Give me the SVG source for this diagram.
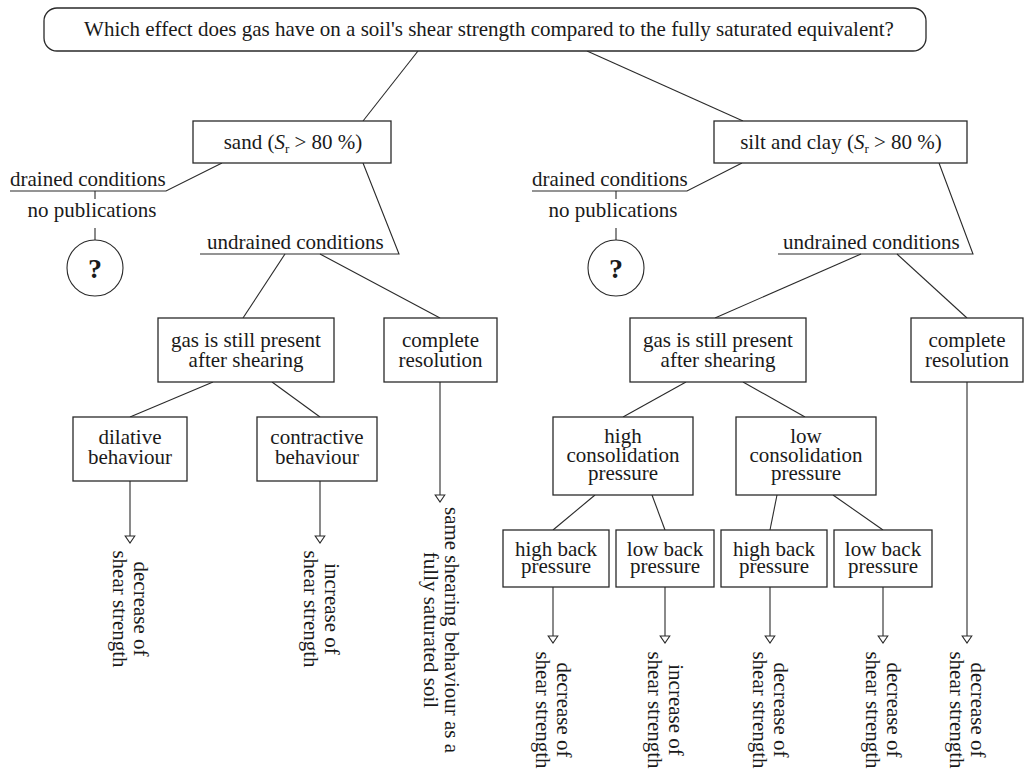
<svg xmlns="http://www.w3.org/2000/svg" width="1025" height="770" viewBox="0 0 1025 770">
<defs>
<style>
text{font-family:"Liberation Serif","Times New Roman",serif;font-size:21px;fill:#1a1a1a}
.c{text-anchor:middle}
.box{fill:#fff;stroke:#2a2a2a;stroke-width:1.3}
.ln{fill:none;stroke:#2a2a2a;stroke-width:1.1}
.ar{fill:none;stroke:#2a2a2a;stroke-width:1.1;marker-end:url(#tri)}
.q{font-weight:bold;font-size:28px}
.sub{font-size:13px}
</style>
<marker id="tri" markerUnits="userSpaceOnUse" markerWidth="12" markerHeight="12" viewBox="0 0 10 12" refX="8" refY="6" orient="auto">
<path d="M1,1.2 L8,6 L1,10.8 Z" fill="#fff" stroke="#2a2a2a" stroke-width="1.1"/>
</marker>
</defs>
<rect width="1025" height="770" fill="#fff"/>

<g id="connectors">
<line class="ln" x1="418" y1="51" x2="363" y2="121"/>
<line class="ln" x1="587" y1="51" x2="743" y2="121"/>
<polyline class="ln" points="222,163 166,191 10,191"/>
<line class="ln" x1="95" y1="191" x2="95" y2="199"/>
<line class="ln" x1="95" y1="228" x2="95" y2="240"/>
<polyline class="ln" points="363,163 399,254 200,254"/>
<polyline class="ln" points="742,163 687,191 532,191"/>
<line class="ln" x1="616" y1="191" x2="616" y2="199"/>
<line class="ln" x1="616" y1="228" x2="616" y2="240"/>
<polyline class="ln" points="939,163 973,254 778,254"/>
<line class="ln" x1="285" y1="254" x2="243" y2="318"/>
<line class="ln" x1="320" y1="254" x2="440" y2="318"/>
<line class="ln" x1="213" y1="382" x2="130" y2="417"/>
<line class="ln" x1="272" y1="382" x2="320" y2="417"/>
<line class="ar" x1="130" y1="481" x2="130" y2="543"/>
<line class="ar" x1="320" y1="481" x2="320" y2="543"/>
<line class="ar" x1="440" y1="382" x2="440" y2="502"/>
<line class="ln" x1="861" y1="254" x2="715" y2="318"/>
<line class="ln" x1="897" y1="254" x2="967" y2="318"/>
<line class="ln" x1="686" y1="382" x2="623" y2="417"/>
<line class="ln" x1="743" y1="382" x2="805" y2="417"/>
<line class="ln" x1="595" y1="495" x2="553" y2="530"/>
<line class="ln" x1="652" y1="495" x2="665" y2="530"/>
<line class="ln" x1="777" y1="495" x2="770" y2="530"/>
<line class="ln" x1="833" y1="495" x2="883" y2="530"/>
<line class="ar" x1="553" y1="587" x2="553" y2="643"/>
<line class="ar" x1="665" y1="587" x2="665" y2="643"/>
<line class="ar" x1="770" y1="587" x2="770" y2="643"/>
<line class="ar" x1="883" y1="587" x2="883" y2="643"/>
<line class="ar" x1="967" y1="382" x2="967" y2="643"/>
</g>

<g id="question">
<rect class="box" x="44" y="8" width="882" height="43" rx="13"/>
<text class="c" x="489" y="36">Which effect does gas have on a soil's shear strength compared to the fully saturated equivalent?</text>
</g>

<g id="sand">
<rect class="box" x="193" y="121" width="198" height="42"/>
<text class="c" x="293" y="149">sand (<tspan font-style="italic">S</tspan><tspan class="sub" dy="4">r</tspan><tspan dy="-4"> &gt; 80 %)</tspan></text>
</g>

<g id="silt">
<rect class="box" x="714" y="121" width="253" height="42"/>
<text class="c" x="841" y="149">silt and clay (<tspan font-style="italic">S</tspan><tspan class="sub" dy="4">r</tspan><tspan dy="-4"> &gt; 80 %)</tspan></text>
</g>

<g id="sand-drained">
<text x="10" y="186">drained conditions</text>
<text class="c" x="92" y="217">no publications</text>
</g>
<g id="sand-unknown">
<circle cx="95" cy="268" r="28" fill="#fff" stroke="#2a2a2a" stroke-width="1.1"/>
<text class="c q" x="95" y="278">?</text>
</g>
<g id="sand-undrained">
<text x="207" y="249">undrained conditions</text>
</g>

<g id="silt-drained">
<text x="532" y="186">drained conditions</text>
<text class="c" x="613" y="217">no publications</text>
</g>
<g id="silt-unknown">
<circle cx="616" cy="268" r="28" fill="#fff" stroke="#2a2a2a" stroke-width="1.1"/>
<text class="c q" x="616" y="278">?</text>
</g>
<g id="silt-undrained">
<text x="783" y="249">undrained conditions</text>
</g>

<g id="sand-gas">
<rect class="box" x="158" y="318" width="176" height="64"/>
<text class="c" x="246" y="347">gas is still present</text>
<text class="c" x="246" y="367">after shearing</text>
</g>
<g id="sand-complete">
<rect class="box" x="384" y="318" width="113" height="64"/>
<text class="c" x="440.5" y="347">complete</text>
<text class="c" x="440.5" y="367">resolution</text>
</g>
<g id="dilative">
<rect class="box" x="73" y="417" width="114" height="64"/>
<text class="c" x="130" y="444">dilative</text>
<text class="c" x="130" y="464">behaviour</text>
</g>
<g id="contractive">
<rect class="box" x="257" y="417" width="120" height="64"/>
<text class="c" x="317" y="444">contractive</text>
<text class="c" x="317" y="464">behaviour</text>
</g>
<g id="res-dilative" transform="translate(134,609) rotate(90)">
<text class="c" x="0" y="0">decrease of</text>
<text class="c" x="0" y="21">shear strength</text>
</g>
<g id="res-contractive" transform="translate(325,609) rotate(90)">
<text class="c" x="0" y="0">increase of</text>
<text class="c" x="0" y="21">shear strength</text>
</g>
<g id="res-sand-complete" transform="translate(445,630) rotate(90)">
<text class="c" x="0" y="0">same shearing behaviour as a</text>
<text class="c" x="0" y="21">fully saturated soil</text>
</g>

<g id="silt-gas">
<rect class="box" x="630" y="318" width="176" height="64"/>
<text class="c" x="718" y="347">gas is still present</text>
<text class="c" x="718" y="367">after shearing</text>
</g>
<g id="silt-complete">
<rect class="box" x="911" y="318" width="112" height="64"/>
<text class="c" x="967" y="347">complete</text>
<text class="c" x="967" y="367">resolution</text>
</g>
<g id="high-consolidation">
<rect class="box" x="553" y="417" width="140" height="78"/>
<text class="c" x="623" y="443">high</text>
<text class="c" x="623" y="462">consolidation</text>
<text class="c" x="623" y="480">pressure</text>
</g>
<g id="low-consolidation">
<rect class="box" x="736" y="417" width="140" height="78"/>
<text class="c" x="806" y="443">low</text>
<text class="c" x="806" y="462">consolidation</text>
<text class="c" x="806" y="480">pressure</text>
</g>
<g id="hc-high-back">
<rect class="box" x="503" y="530" width="106" height="57"/>
<text class="c" x="556" y="556">high back</text>
<text class="c" x="556" y="573">pressure</text>
</g>
<g id="hc-low-back">
<rect class="box" x="616" y="530" width="98" height="57"/>
<text class="c" x="665" y="556">low back</text>
<text class="c" x="665" y="573">pressure</text>
</g>
<g id="lc-high-back">
<rect class="box" x="721" y="530" width="106" height="57"/>
<text class="c" x="774" y="556">high back</text>
<text class="c" x="774" y="573">pressure</text>
</g>
<g id="lc-low-back">
<rect class="box" x="834" y="530" width="98" height="57"/>
<text class="c" x="883" y="556">low back</text>
<text class="c" x="883" y="573">pressure</text>
</g>
<g id="res-hc-high" transform="translate(557,710) rotate(90)">
<text class="c" x="0" y="0">decrease of</text>
<text class="c" x="0" y="21">shear strength</text>
</g>
<g id="res-hc-low" transform="translate(669,710) rotate(90)">
<text class="c" x="0" y="0">increase of</text>
<text class="c" x="0" y="21">shear strength</text>
</g>
<g id="res-lc-high" transform="translate(774,710) rotate(90)">
<text class="c" x="0" y="0">decrease of</text>
<text class="c" x="0" y="21">shear strength</text>
</g>
<g id="res-lc-low" transform="translate(887,710) rotate(90)">
<text class="c" x="0" y="0">decrease of</text>
<text class="c" x="0" y="21">shear strength</text>
</g>
<g id="res-silt-complete" transform="translate(971,710) rotate(90)">
<text class="c" x="0" y="0">decrease of</text>
<text class="c" x="0" y="21">shear strength</text>
</g>
</svg>
